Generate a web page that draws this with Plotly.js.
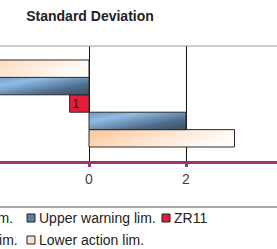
<!DOCTYPE html>
<html><head><meta charset="utf-8">
<script src="https://cdn.plot.ly/plotly-3.0.1.min.js"></script>
<style>html,body{margin:0;padding:0;overflow:hidden;background:#fff}#chart{width:277px;height:249px}</style>
</head><body><div id="chart"></div>
<script>
// ---- data ----
const categories = ['Standard Deviation'];
const seriesNames = ['Upper action lim.', 'Upper warning lim.', 'ZR11', 'Lower warning lim.', 'Lower action lim.'];
const seriesValues = [3, 2, -0.4, -2, -3];
const seriesLabels = ['', '', '1', '', ''];
const xTickValues = [-2, 0, 2, 4];
const xTickLabels = ['-2', '0', '2', '4'];
const titleText = 'Standard Deviation';

// ---- styles ----
const W = 277, H = 249, T = 46, B = 161;
const FONT = 'Liberation Sans, Arial, sans-serif';
const fills = ['#fde0c8', '#5a7fa6', '#e31e3a', '#5a7fa6', '#fde0c8'];
const grads = ['gPeach', 'gBlue', null, 'gBlue', 'gPeach'];
const pxPerUnit = 48.5, zeroPx = 89;
const px = v => v / W;                 // page x -> paper x
const py = v => (B - v) / (B - T);     // page y -> paper y

const data = seriesNames.map((n, i) => ({
  type: 'bar', orientation: 'h', name: n,
  y: categories, x: [seriesValues[i]],
  text: [seriesLabels[i]],
  textposition: seriesLabels[i] ? 'inside' : 'none',
  insidetextanchor: 'end', textangle: 0, constraintext: 'none',
  textfont: {family: FONT, size: 12, color: '#3a0c14'},
  marker: {color: fills[i], line: {color: '#2b2b2b', width: 1}},
  showlegend: false, hoverinfo: 'skip'
}));

// custom legend (grid like the reference)
const colX = [-108, 27, 162], rowY = [218, 240];
const colEnd0 = [15, 20];   // right edge of first-column labels (cut by the frame)
const slots = [[0,0],[1,0],[2,0],[0,1],[1,1]];
const shapes = [
  {type:'line', xref:'paper', yref:'paper', x0:0, x1:1, y0:1, y1:1, line:{color:'#9a9a9a', width:1}},
  {type:'line', xref:'paper', yref:'paper', x0:0, x1:1, y0:py(207), y1:py(207), line:{color:'#555', width:1}}
];
const annotations = [];
seriesNames.forEach((n, i) => {
  const [c, r] = slots[i];
  const x0 = colX[c], cy = rowY[r];
  shapes.push({type:'rect', xref:'paper', yref:'paper',
    x0:px(x0), x1:px(x0+8), y0:py(cy+4), y1:py(cy-4),
    fillcolor: fills[i], line:{color:'#222', width:1}});
  const a = {xref:'paper', yref:'paper', y:py(cy), yanchor:'middle', showarrow:false, text:n,
    font:{family:FONT, size:14, color:'#222'}};
  if (c === 0) { a.x = px(colEnd0[r]); a.xanchor = 'right'; }
  else { a.x = px(x0 + 10); a.xanchor = 'left'; }
  annotations.push(a);
});

const layout = {
  width: W, height: H,
  margin: {l:0, r:0, t:T, b:H-B, pad:0},
  paper_bgcolor: '#fff', plot_bgcolor: '#fff',
  title: {text: titleText, x: 90/W, xanchor:'center', y: 1 - 16/H, yanchor:'middle',
          font:{family:FONT, size:14, color:'#222', weight:'bold'}},
  barmode: 'group', bargap: 0.243, bargroupgap: 0,
  xaxis: {range: [-zeroPx/pxPerUnit, (W-zeroPx)/pxPerUnit],
    tickvals: xTickValues, ticktext: xTickLabels,
    showgrid: true, gridcolor:'#111', gridwidth:1,
    zeroline: true, zerolinecolor:'#111', zerolinewidth:1,
    showline: true, linecolor:'#a0336a', linewidth:3,
    ticks:'outside', ticklen:3, tickwidth:3, tickcolor:'#a0336a',
    tickfont:{family:FONT, size:14, color:'#444'}, fixedrange:true},
  yaxis: {showticklabels:false, showgrid:false, zeroline:false, showline:false, fixedrange:true},
  shapes, annotations, showlegend:false
};

Plotly.newPlot('chart', data, layout, {staticPlot:true, displayModeBar:false}).then(gd => {
  const ns = 'http://www.w3.org/2000/svg';
  const svg = gd.querySelector('svg.main-svg');
  const defs = document.createElementNS(ns, 'defs');
  defs.innerHTML =
    '<linearGradient id="gBlue" x1="0" y1="0" x2="1" y2="1">' +
      '<stop offset="0" stop-color="#6d99c4"/><stop offset="0.28" stop-color="#8fbde6"/>' +
      '<stop offset="0.7" stop-color="#4f6c8b"/><stop offset="1" stop-color="#3a4f65"/></linearGradient>' +
    '<linearGradient id="gPeach" x1="0" y1="0" x2="1" y2="0.3">' +
      '<stop offset="0" stop-color="#fcc597"/><stop offset="0.5" stop-color="#fde2cc"/>' +
      '<stop offset="1" stop-color="#fffbf7"/></linearGradient>';
  svg.insertBefore(defs, svg.firstChild);
  gd.querySelectorAll('.barlayer .trace').forEach((t, i) => {
    if (grads[i]) t.querySelectorAll('path').forEach(p => { p.style.fill = 'url(#' + grads[i] + ')'; });
  });
});
</script></body></html>
